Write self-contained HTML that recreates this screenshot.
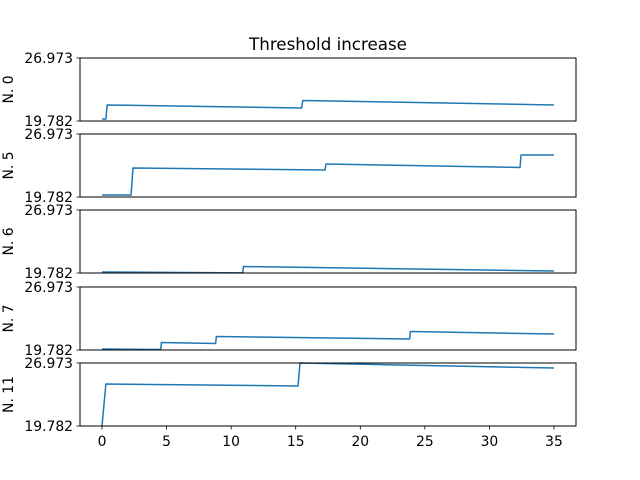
<!DOCTYPE html>
<html><head><meta charset="utf-8"><style>
body{margin:0;background:#fff}
svg{display:block;font-family:"DejaVu Sans","Liberation Sans",sans-serif}
</style></head><body>
<svg id="chart" width="640" height="480" viewBox="0 0 640 480">
<rect width="640" height="480" fill="#fff"/>
<text x="328" y="50" font-size="16.7" text-anchor="middle" fill="#000">Threshold increase</text>
</svg>
<script>
const panelNames = ["N. 0","N. 5","N. 6","N. 7","N. 11"];
const series0T = [0,0.3,0.4,15.45,15.55,35];
const series0V = [20.01,20.01,21.61,21.27,22.12,21.61];
const series1T = [0,2.25,2.4,17.27,17.35,32.37,32.45,35];
const series1V = [20.01,20.01,23.09,22.86,23.55,23.15,24.58,24.58];
const series2T = [0,10.9,10.95,35];
const series2V = [19.90,19.79,20.52,20.01];
const series3T = [0,4.55,4.6,8.8,8.85,23.82,23.88,35];
const series3V = [19.90,19.84,20.64,20.52,21.32,21.04,21.89,21.61];
const series4T = [0,0.3,15.18,15.33,35];
const series4V = [19.782,24.57,24.35,26.973,26.40];
const allT = [series0T,series1T,series2T,series3T,series4T];
const allV = [series0V,series1V,series2V,series3V,series4V];
const yTickLabels = ["19.782","26.973"];
const yMin = 19.782, yMax = 26.973;
const xTicks = [0,5,10,15,20,25,30,35];

const NS="http://www.w3.org/2000/svg";
const svg=document.getElementById('chart');
const L=80,R=576,panelTops=[58,134,210,287,363],PH=63;
function xs(t){return 102+t*(554-102)/35;}
function mk(tag,attrs,parent){const e=document.createElementNS(NS,tag);for(const k in attrs)e.setAttribute(k,attrs[k]);(parent||svg).appendChild(e);return e;}

panelNames.forEach((name,i)=>{
  const top=panelTops[i],bot=top+PH;
  const ys=v=>bot-(v-yMin)/(yMax-yMin)*PH;
  const g=mk('g',{});
  
  
  const pts=allT[i].map((t,j)=>xs(t).toFixed(2)+','+ys(allV[i][j]).toFixed(2)).join(' ');
  const line=mk('polyline',{points:pts,fill:'none',stroke:'#1f77b4','stroke-width':1.5,'stroke-linejoin':'round'},g);
  
  
  const fr=mk('rect',{x:L,y:top,width:R-L,height:PH,fill:'none',stroke:'#000','stroke-width':1},g);
  
  
  [yMin,yMax].forEach((v,k)=>{
    const y=ys(v);
    mk('line',{x1:L-3.5,x2:L,y1:y,y2:y,stroke:'#000','stroke-width':0.8},g);
    const tx=mk('text',{x:L-7,y:y+5,'font-size':13.9,'text-anchor':'end',fill:'#000'},g);
    tx.textContent=yTickLabels[k];
    
    
  });
  const yl=mk('text',{x:0,y:0,'font-size':13.9,'text-anchor':'middle',fill:'#000',transform:`translate(13,${top+PH/2}) rotate(-90)`},g);
  yl.textContent=name;
  
  
  if(i===panelNames.length-1){
    xTicks.forEach(t=>{
      const x=xs(t);
      mk('line',{x1:x,x2:x,y1:bot,y2:bot+3.5,stroke:'#000','stroke-width':0.8},g);
      const tx=mk('text',{x:x,y:bot+20,'font-size':13.9,'text-anchor':'middle',fill:'#000'},g);
      tx.textContent=t;
      
      
    });
  }
});
</script>
</body></html>
